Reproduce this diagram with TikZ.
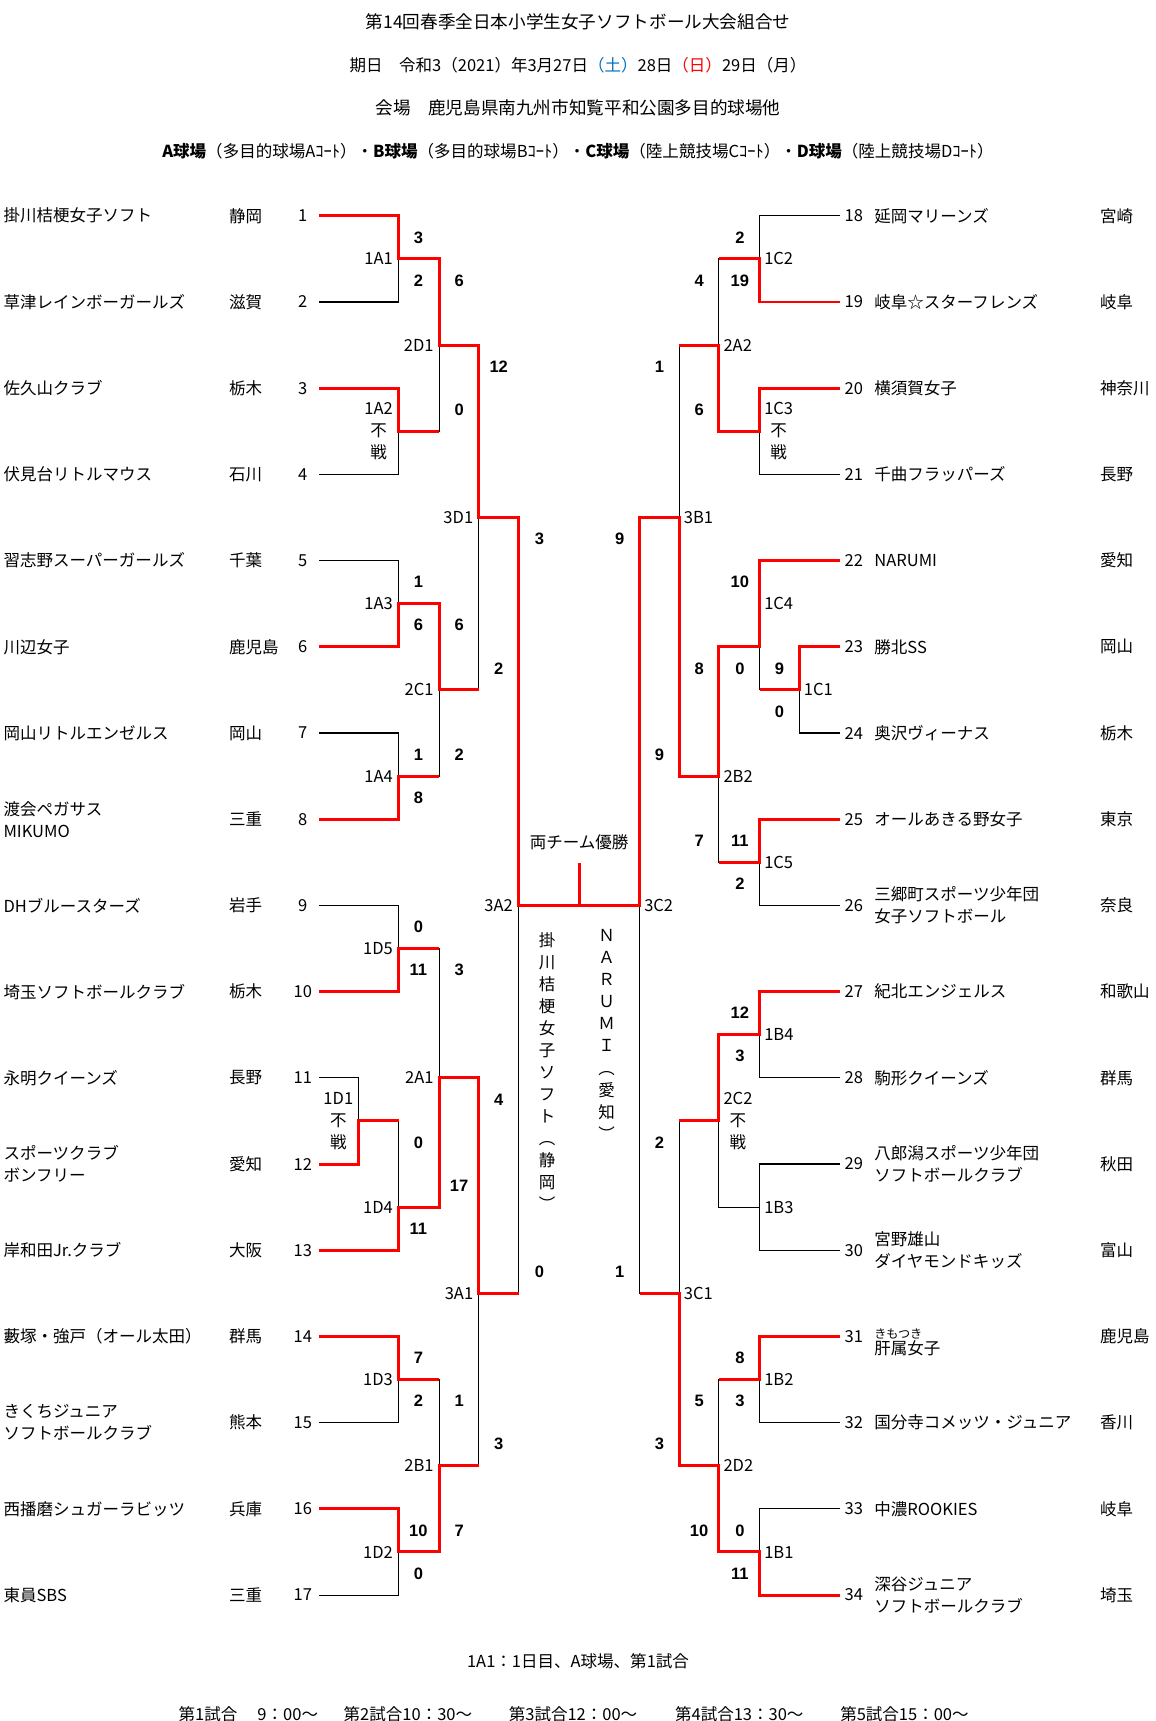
\documentclass[tikz,border=0pt]{standalone}
\usepackage{fontspec}
\setmainfont{Noto Sans CJK JP}
\newfontfamily\scorefont{Liberation Sans}
\usetikzlibrary{positioning}
\definecolor{winred}{RGB}{255,0,0}
\definecolor{satblue}{RGB}{0,112,192}

\begin{document}
\begin{tikzpicture}[x=1pt,y=-1pt,
  txt/.style={inner sep=0pt,font=\fontsize{15}{20}\selectfont},
  head/.style={inner sep=0pt,font=\fontsize{16}{20}\selectfont},
  teamname/.style={txt,anchor=west,align=left},
  lbl/.style={txt,align=center},
  score/.style={inner sep=0pt,font=\scorefont\bfseries\fontsize{15}{18}\selectfont},
  bk/.style={line width=1pt},
  win/.style={line width=2.7pt,winred}]
\useasboundingbox (0,0) rectangle (1050,1563.2);

\node[head] (title) at (525,20) {第14回春季全日本小学生女子ソフトボール大会組合せ};
\node[txt] (date) at (525,59) {期日　令和3（2021）年3月27日{\color{satblue}（土）}28日{\color{winred}（日）}29日（月）};
\node[head] (venue) at (525,98) {会場　鹿児島県南九州市知覧平和公園多目的球場他};
\node[txt] (courts) at (525,137) {\textbf{A球場}（多目的球場Aｺｰﾄ）・\textbf{B球場}（多目的球場Bｺｰﾄ）・\textbf{C球場}（陸上競技場Cｺｰﾄ）・\textbf{D球場}（陸上競技場Dｺｰﾄ）};

\foreach \i in {1,...,17} \coordinate (t\i) at (290,{196+78.3*(\i-1)});
\foreach \i in {18,...,34} \coordinate (t\i) at (763,{196+78.3*(\i-18)});
\foreach \n/\x/\k in {1A1/362/1,1A2/362/5,1A3/362/9,1A4/362/13,1D5/362/17,1D1/326/21,1D4/362/23,1D3/362/27,1D2/362/31,
  2D1/399/3,2C1/399/11,2A1/399/20,2B1/399/29,3D1/435/7,3A1/435/25,3A2/471/16,
  1C2/690/1,1C3/690/5,1C4/690/10,1C1/726/11,1C5/690/15,1B4/690/19,1B3/690/23,1B2/690/27,1B1/690/31,
  2A2/653/3,2B2/653/13,2C2/653/21,2D2/653/29,3B1/617/7,3C1/617/25,3C2/581/16}
  \coordinate (j\n) at (\x,{196+39.15*\k});

\foreach \i/\tn/\pf in {1/掛川桔梗女子ソフト/静岡,2/草津レインボーガールズ/滋賀,3/佐久山クラブ/栃木,
  4/伏見台リトルマウス/石川,5/習志野スーパーガールズ/千葉,6/川辺女子/鹿児島,7/岡山リトルエンゼルス/岡山,
  8/{渡会ペガサス\\MIKUMO}/三重,9/DHブルースターズ/岩手,10/埼玉ソフトボールクラブ/栃木,
  11/永明クイーンズ/長野,12/{スポーツクラブ\\ボンフリー}/愛知,13/岸和田Jr.クラブ/大阪,
  14/藪塚・強戸（オール太田）/群馬,15/{きくちジュニア\\ソフトボールクラブ}/熊本,
  16/西播磨シュガーラビッツ/兵庫,17/東員SBS/三重}{
  \node[teamname] (n\i) at (3,{196+78.3*(\i-1)}) {\tn};
  \node[teamname] (p\i) at (208,{196+78.3*(\i-1)}) {\pf};
  \node[txt] (no\i) at (275,{196+78.3*(\i-1)}) {\i};
}
\foreach \i/\tn/\pf in {18/延岡マリーンズ/宮崎,19/岐阜☆スターフレンズ/岐阜,20/横須賀女子/神奈川,
  21/千曲フラッパーズ/長野,22/NARUMI/愛知,23/勝北SS/岡山,24/奥沢ヴィーナス/栃木,
  25/オールあきる野女子/東京,26/{三郷町スポーツ少年団\\女子ソフトボール}/奈良,27/紀北エンジェルス/和歌山,
  28/駒形クイーンズ/群馬,29/{八郎潟スポーツ少年団\\ソフトボールクラブ}/秋田,
  30/{宮野雄山\\ダイヤモンドキッズ}/富山,32/国分寺コメッツ・ジュニア/香川,33/中濃ROOKIES/岐阜,
  34/{深谷ジュニア\\ソフトボールクラブ}/埼玉}{
  \node[txt,anchor=west] (no\i) at (767,{196+78.3*(\i-18)}) {\i};
  \node[teamname] (n\i) at (794,{196+78.3*(\i-18)}) {\tn};
  \node[teamname] (p\i) at (999,{196+78.3*(\i-18)}) {\pf};
}
\node[txt,anchor=west] (no31) at (767,{196+78.3*13}) {31};
\node[teamname] (n31) at (794,{196+78.3*13+11}) {肝属女子};
\node[txt,anchor=south west,font=\fontsize{11}{12}\selectfont] (r31) at ([yshift=1pt]n31.north west) {きもつき};
\node[teamname] (p31) at (999,{196+78.3*13}) {鹿児島};

\draw[bk] (t1) -| (j1A1) |- (t2)  (t3) -| (j1A2) |- (t4)  (j1A1) -| (j2D1) |- (j1A2)
  (t5) -| (j1A3) |- (t6)  (t7) -| (j1A4) |- (t8)  (j1A3) -| (j2C1) |- (j1A4)
  (j2D1) -| (j3D1) |- (j2C1)
  (t9) -| (j1D5) |- (t10)  (t11) -| (j1D1) |- (t12)  (j1D1) -| (j1D4) |- (t13)
  (j1D5) -| (j2A1) |- (j1D4)
  (t14) -| (j1D3) |- (t15)  (t16) -| (j1D2) |- (t17)  (j1D3) -| (j2B1) |- (j1D2)
  (j2A1) -| (j3A1) |- (j2B1)  (j3D1) -| (j3A2) |- (j3A1);
\draw[bk] (t18) -| (j1C2) |- (t19)  (t20) -| (j1C3) |- (t21)  (j1C2) -| (j2A2) |- (j1C3)
  (t23) -| (j1C1) |- (t24)  (t22) -| (j1C4) |- (j1C1)  (t25) -| (j1C5) |- (t26)
  (j1C4) -| (j2B2) |- (j1C5)  (j2A2) -| (j3B1) |- (j2B2)
  (t27) -| (j1B4) |- (t28)  (t29) -| (j1B3) |- (t30)  (j1B4) -| (j2C2) |- (j1B3)
  (t31) -| (j1B2) |- (t32)  (t33) -| (j1B1) |- (t34)  (j1B2) -| (j2D2) |- (j1B1)
  (j2C2) -| (j3C1) |- (j2D2)  (j3B1) -| (j3C2) |- (j3C1);

\draw[win] (t1) -| (j1A1) -| (j2D1) -| (j3D1) -| (j3A2) -- (j3C2) |- (j3B1) |- (j2B2) |- (j1C4) |- (t22);
\draw[win] (t3) -| (j1A2) -- (j1A2 -| j2D1);
\draw[win] (t6) -| (j1A3) -| (j2C1) -- (j2C1 -| j3D1);
\draw[win] (t8) -| (j1A4) -- (j1A4 -| j2C1);
\draw[win] (t10) -| (j1D5) -- (j1D5 -| j2A1);
\draw[win] (t12) -| (j1D1) -- (j1D1 -| j1D4);
\draw[win] (t13) -| (j1D4) -| (j2A1) -| (j3A1) -- (j3A1 -| j3A2);
\draw[win] (t14) -| (j1D3) -- (j1D3 -| j2B1);
\draw[win] (t16) -| (j1D2) -| (j2B1) -- (j2B1 -| j3A1);
\draw[win] (t19) -| (j1C2) -- (j1C2 -| j2A2);
\draw[win] (t20) -| (j1C3) -| (j2A2) -- (j2A2 -| j3B1);
\draw[win] (t23) -| (j1C1) -- (j1C1 -| j1C4);
\draw[win] (t25) -| (j1C5) -- (j1C5 -| j2B2);
\draw[win] (t27) -| (j1B4) -| (j2C2) -- (j2C2 -| j3C1);
\draw[win] (t31) -| (j1B2) -- (j1B2 -| j2D2);
\draw[win] (t34) -| (j1B1) -| (j2D2) -| (j3C1) -- (j3C1 -| j3C2);

\coordinate (champ) at (526,784);
\draw[win] (champ) -- (champ |- j3A2);
\node[txt] (both) at (526,765) {両チーム優勝};
\node[lbl] (v1) at (497,973) {掛\\川\\桔\\梗\\女\\子\\ソ\\フ\\ト\\︵\\静\\岡\\︶};
\node[lbl] (v2) at (551,940) {Ｎ\\Ａ\\Ｒ\\Ｕ\\Ｍ\\Ｉ\\︵\\愛\\知\\︶};

\foreach \n in {1A1,1A3,1A4,1D5,1D4,1D3,1D2,2D1,2C1,2A1,2B1,3D1,3A1,3A2}
  \node[lbl,anchor=east] (l\n) at ([xshift=-5pt]j\n) {\n};
\foreach \n in {1C2,1C1,1C5,1B4,1B3,1B2,1B1,2A2,2B2,2D2,3B1,3C1,3C2}
  \node[lbl,anchor=west] (l\n) at ([xshift=4pt]j\n) {\n};
\node[lbl,anchor=west] (l1C4) at ([xshift=4pt,yshift=39.15pt]j1C4) {1C4};
\node[lbl,anchor=east] (l1A2) at ([xshift=-5pt]j1A2) {1A2\\不\\戦};
\node[lbl,anchor=east] (l1D1) at ([xshift=-5pt]j1D1) {1D1\\不\\戦};
\node[lbl,anchor=west] (l1C3) at ([xshift=4pt]j1C3) {1C3\\不\\戦};
\node[lbl,anchor=west] (l2C2) at ([xshift=4pt]j2C2) {2C2\\不\\戦};

\foreach \x/\k/\s [count=\c] in {380/0.5/3,380/1.5/2,417/1.5/6,417/4.5/0,453/3.5/12,453/10.5/2,
  380/8.5/1,380/9.5/6,417/9.5/6,417/12.5/2,380/12.5/1,380/13.5/8,490/7.5/3,490/24.5/0,
  380/16.5/0,380/17.5/11,417/17.5/3,417/22.5/17,380/21.5/0,380/23.5/11,453/20.5/4,453/28.5/3,
  380/26.5/7,380/27.5/2,417/27.5/1,417/30.5/7,380/30.5/10,380/31.5/0,
  672/0.5/2,672/1.5/19,635/1.5/4,635/4.5/6,599/3.5/1,599/12.5/9,
  672/8.5/10,672/10.5/0,708/10.5/9,708/11.5/0,635/10.5/8,635/14.5/7,672/14.5/11,672/15.5/2,
  563/7.5/9,563/24.5/1,672/18.5/12,672/19.5/3,599/21.5/2,599/28.5/3,
  672/26.5/8,672/27.5/3,635/27.5/5,635/30.5/10,672/30.5/0,672/31.5/11}
  \node[score] (sc\c) at (\x,{196+39.15*\k}) {\s};

\node[txt] (note) at (525,1509) {1A1：1日目、A球場、第1試合};
\foreach \x/\g [count=\c] in {162/第1試合　 9：00～,312/第2試合10：30～,462/第3試合12：00～,613/第4試合13：30～,763/第5試合15：00～}
  \node[txt,anchor=west] (game\c) at (\x,1557) {\g};
\end{tikzpicture}
\end{document}
